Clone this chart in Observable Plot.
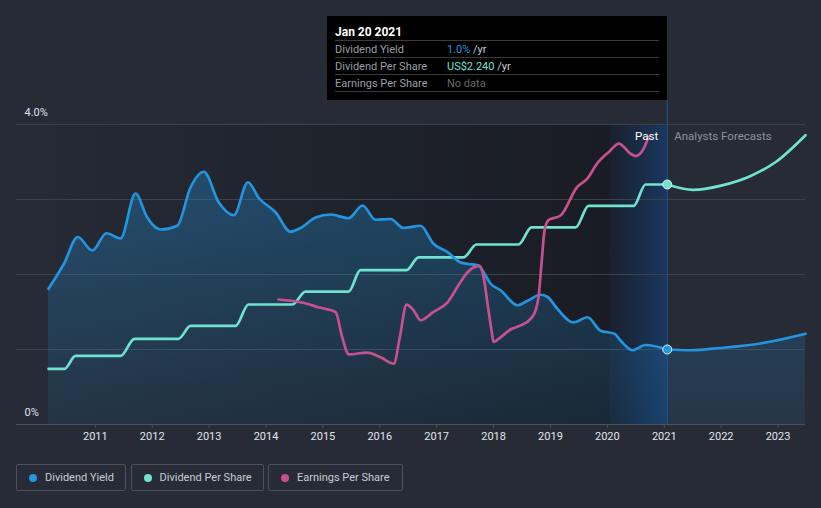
<!DOCTYPE html>
<html><head><meta charset="utf-8">
<script src="https://cdn.jsdelivr.net/npm/d3@7"></script>
<script src="https://cdn.jsdelivr.net/npm/@observablehq/plot@0.6"></script>
<style>
html,body{margin:0;padding:0;background:#262b36;}
#wrap{position:relative;width:821px;height:508px;overflow:hidden;font-family:Roboto,"Open Sans",sans-serif;}
#chart{position:absolute;left:0;top:0;}
.tip{position:absolute;left:327px;top:16px;width:340px;height:84px;background:#000;color:#9a9ea6;font-size:11px;}
.tip .title{position:absolute;left:8px;top:9px;font-size:12px;font-weight:bold;color:#fff;line-height:14px;}
.tip .row{position:absolute;left:8px;width:324px;height:16px;border-top:1px solid #3a3a3a;line-height:17px;}
.tip .row.last{border-bottom:1px solid #3a3a3a;}
.tip .lab{position:absolute;left:0;top:0;}
.tip .val{position:absolute;left:112px;top:0;}
.legend{position:absolute;left:16px;top:464px;display:flex;gap:4.5px;}
.legend .item{box-sizing:border-box;height:27px;border:1px solid #4b505b;border-radius:2px;display:flex;align-items:center;padding-left:12px;color:#c9ccd3;font-size:11px;}
.legend .dot{width:8px;height:8px;border-radius:50%;margin-right:8px;}
</style></head>
<body><div id="wrap"><div id="chart"></div>
<div class="tip" id="tip"></div>
<div class="legend" id="legend"></div>
</div>
<script>
// ---------- data ----------
const yieldYears = [2010.177, 2010.446, 2010.692, 2010.946, 2011.197, 2011.443, 2011.707, 2011.912, 2012.146, 2012.440, 2012.673, 2012.907, 2013.171, 2013.435, 2013.681, 2013.874, 2014.168, 2014.431, 2014.607, 2014.871, 2015.134, 2015.451, 2015.697, 2015.925, 2016.189, 2016.417, 2016.716, 2016.944, 2017.191, 2017.419, 2017.560, 2017.735, 2017.841, 2017.946, 2018.122, 2018.421, 2018.597, 2018.825, 2018.949, 2019.124, 2019.406, 2019.652, 2019.880, 2020.126, 2020.232, 2020.443, 2020.671, 2021.053];
const yieldPct   = [1.81, 2.14, 2.50, 2.32, 2.55, 2.48, 3.08, 2.76, 2.60, 2.65, 3.16, 3.37, 2.96, 2.79, 3.23, 3.02, 2.83, 2.57, 2.62, 2.76, 2.80, 2.75, 2.92, 2.73, 2.74, 2.62, 2.65, 2.41, 2.30, 2.16, 2.14, 2.12, 2.01, 1.88, 1.79, 1.59, 1.65, 1.73, 1.70, 1.54, 1.36, 1.43, 1.25, 1.21, 1.12, 0.99, 1.06, 1.00];
const yieldFcYears = [2021.053, 2021.460, 2021.988, 2022.691, 2023.483];
const yieldFcPct   = [1.00, 0.99, 1.02, 1.08, 1.21];

const dpsYears  = [2010.177, 2010.459, 2010.652, 2011.443, 2011.689, 2012.462, 2012.673, 2013.464, 2013.693, 2014.466, 2014.694, 2015.450, 2015.661, 2016.470, 2016.681, 2017.472, 2017.700, 2018.439, 2018.668, 2019.441, 2019.670, 2020.461, 2020.672, 2021.053];
const dpsValues = [0.52, 0.52, 0.64, 0.64, 0.80, 0.80, 0.92, 0.92, 1.12, 1.12, 1.24, 1.24, 1.44, 1.44, 1.56, 1.56, 1.68, 1.68, 1.84, 1.84, 2.04, 2.04, 2.24, 2.24];
const dpsFcYears  = [2021.053, 2021.508, 2022.000, 2022.520, 2022.960, 2023.483];
const dpsFcValues = [2.24, 2.19, 2.23, 2.32, 2.45, 2.70];

const epsYears  = [2014.220, 2014.607, 2014.958, 2015.222, 2015.340, 2015.456, 2015.779, 2016.013, 2016.247, 2016.352, 2016.470, 2016.598, 2016.716, 2016.944, 2017.191, 2017.419, 2017.542, 2017.753, 2017.824, 2017.894, 2017.964, 2017.999, 2018.122, 2018.298, 2018.474, 2018.650, 2018.738, 2018.790, 2018.843, 2018.896, 2018.966, 2019.177, 2019.471, 2019.647, 2019.822, 2020.026, 2020.202, 2020.408, 2020.496, 2020.619, 2020.724];
const epsValues = [2.71, 2.65, 2.53, 2.44, 1.89, 1.52, 1.56, 1.46, 1.32, 1.89, 2.60, 2.47, 2.26, 2.44, 2.65, 3.09, 3.30, 3.44, 3.20, 2.62, 2.04, 1.79, 1.89, 2.06, 2.15, 2.29, 2.47, 2.76, 3.49, 4.21, 4.43, 4.53, 5.15, 5.33, 5.66, 5.91, 6.09, 5.87, 5.82, 5.94, 6.23];

const xTicks = [2011, 2012, 2013, 2014, 2015, 2016, 2017, 2018, 2019, 2020, 2021, 2022, 2023];
const gridVals = [1, 2, 3, 4];
const yLabelVals = [0, 4];
const yLabelTexts = ["0%", "4.0%"];

const xStart = 2010.177, xEnd = 2023.483, gridStart = 2009.615;
const bandStart = 2020.038, forecastStart = 2021.053;

// secondary-axis unit conversions (DPS US$ and EPS US$ onto the % frame)
const dpsToPct = 3.2 / 2.24;
const epsToPct = 0.615;

const tipDate = "Jan 20 2021";
const tipRows = [
  {label: "Dividend Yield", value: "1.0%", unit: " /yr", color: "#2394df"},
  {label: "Dividend Per Share", value: "US$2.240", unit: " /yr", color: "#6fe3cf"},
  {label: "Earnings Per Share", value: "No data", unit: "", color: "#666a70"}
];
const legendItems = [
  {name: "Dividend Yield", color: "#2394df", w: 110},
  {name: "Dividend Per Share", color: "#6fe3cf", w: 133},
  {name: "Earnings Per Share", color: "#c7508f", w: 135}
];

// ---------- tables ----------
const yieldPast = yieldYears.map((x, i) => ({x, v: yieldPct[i]}));
const yieldFc = yieldFcYears.map((x, i) => ({x, v: yieldFcPct[i]}));
const yieldAll = yieldPast.concat(yieldFc.slice(1));
const dpsPast = dpsYears.map((x, i) => ({x, v: dpsValues[i]}));
const dpsFc = dpsFcYears.map((x, i) => ({x, v: dpsFcValues[i]}));
const eps = epsYears.map((x, i) => ({x, v: epsValues[i]}));
const yLabels = yLabelVals.map((v, i) => ({v, t: yLabelTexts[i]}));

const BLUE = "#2394df", TEAL = "#6fe3cf", PINK = "#c7508f";

const chart = Plot.plot({
  width: 821, height: 450,
  marginLeft: 48, marginRight: 16, marginTop: 124, marginBottom: 26,
  x: {domain: [xStart, xEnd], axis: null},
  y: {domain: [0, 4], axis: null},
  style: {background: "transparent", color: "#dfe2e8", fontFamily: "Roboto, sans-serif", fontSize: "11px", overflow: "visible"},
  marks: [
    Plot.rect([{a: xStart, b: forecastStart}], {x1: "a", x2: "b", y1: 0, y2: 4, fill: "url(#pastGrad)"}),
    Plot.rect([{a: bandStart, b: forecastStart}], {x1: "a", x2: "b", y1: 0, y2: 4, fill: "url(#bandGrad)"}),
    Plot.ruleY(gridVals, {x1: gridStart, x2: xEnd, stroke: "#3c414c", strokeWidth: 1}),
    Plot.areaY(yieldAll, {x: "x", y: "v", fill: "url(#areaGrad)", curve: "monotone-x"}),
    Plot.ruleY([0], {x1: gridStart, x2: xEnd, stroke: "#4b505b", strokeWidth: 1}),
    Plot.ruleX([forecastStart], {y1: 0, y2: 4.32, stroke: "#235796", strokeWidth: 1}),
    Plot.line(dpsPast, {x: "x", y: d => d.v * dpsToPct, stroke: TEAL, strokeWidth: 2.7, curve: "monotone-x"}),
    Plot.line(dpsFc, {x: "x", y: d => d.v * dpsToPct, stroke: TEAL, strokeWidth: 2.7, curve: "monotone-x"}),
    Plot.line(yieldPast, {x: "x", y: "v", stroke: BLUE, strokeWidth: 2.7, curve: "monotone-x"}),
    Plot.line(yieldFc, {x: "x", y: "v", stroke: BLUE, strokeWidth: 2.7, curve: "monotone-x"}),
    Plot.line(eps, {x: "x", y: d => d.v * epsToPct, stroke: PINK, strokeWidth: 2.7, curve: "monotone-x"}),
    Plot.dot([dpsPast[dpsPast.length - 1]], {x: "x", y: d => d.v * dpsToPct, r: 4.5, fill: TEAL, stroke: "#e8eef5", strokeWidth: 1}),
    Plot.dot([yieldPast[yieldPast.length - 1]], {x: "x", y: "v", r: 4.5, fill: BLUE, stroke: "#e8eef5", strokeWidth: 1}),
    Plot.text(["Past"], {x: forecastStart, y: 4, dx: -9, dy: 12, text: d => d, textAnchor: "end", fill: "#ffffff", fontSize: 11.5}),
    Plot.text(["Analysts Forecasts"], {x: forecastStart, y: 4, dx: 7, dy: 12, text: d => d, textAnchor: "start", fill: "#8d929b", fontSize: 11.5}),
    Plot.text(yLabels, {x: gridStart, y: "v", text: "t", dx: 8, dy: -12, textAnchor: "start", fill: "#dfe2e8", fontSize: 11}),
    Plot.axisX(xTicks, {tickSize: 4, tickPadding: 4, stroke: "#4b505b", fill: "#e2e5ea", tickFormat: d => String(d), fontSize: 11})
  ]
});

const svg = d3.select(chart);
const defs = svg.insert("defs", ":first-child");
const pg = defs.append("linearGradient").attr("id", "pastGrad").attr("x1", 0).attr("x2", 1).attr("y1", 0).attr("y2", 0);
pg.append("stop").attr("offset", 0).attr("stop-color", "#000").attr("stop-opacity", 0.03);
pg.append("stop").attr("offset", 0.94).attr("stop-color", "#000").attr("stop-opacity", 0.36);
pg.append("stop").attr("offset", 1).attr("stop-color", "#000").attr("stop-opacity", 0.36);
const bg = defs.append("linearGradient").attr("id", "bandGrad").attr("x1", 0).attr("x2", 1).attr("y1", 0).attr("y2", 0);
bg.append("stop").attr("offset", 0).attr("stop-color", "#1c5cb0").attr("stop-opacity", 0.06);
bg.append("stop").attr("offset", 1).attr("stop-color", "#1c5cb0").attr("stop-opacity", 0.42);
const ag = defs.append("linearGradient").attr("id", "areaGrad").attr("x1", 0).attr("x2", 0).attr("y1", 0).attr("y2", 1);
ag.append("stop").attr("offset", 0).attr("stop-color", BLUE).attr("stop-opacity", 0.34);
ag.append("stop").attr("offset", 1).attr("stop-color", BLUE).attr("stop-opacity", 0.1);

document.getElementById("chart").appendChild(chart);

// tooltip
const tip = document.getElementById("tip");
const t = document.createElement("div"); t.className = "title"; t.textContent = tipDate; tip.appendChild(t);
tipRows.forEach((r, i) => {
  const row = document.createElement("div");
  row.className = "row" + (i === tipRows.length - 1 ? " last" : "");
  row.style.top = (24 + i * 17) + "px";
  const lab = document.createElement("span"); lab.className = "lab"; lab.textContent = r.label;
  const val = document.createElement("span"); val.className = "val";
  const v = document.createElement("span"); v.style.color = r.color; v.textContent = r.value;
  const u = document.createElement("span"); u.style.color = "#c8ccd2"; u.textContent = r.unit;
  val.appendChild(v); val.appendChild(u);
  row.appendChild(lab); row.appendChild(val);
  tip.appendChild(row);
});

// legend
const legend = document.getElementById("legend");
legendItems.forEach(it => {
  const d = document.createElement("div"); d.className = "item"; d.style.width = it.w + "px";
  const dot = document.createElement("span"); dot.className = "dot"; dot.style.background = it.color;
  const s = document.createElement("span"); s.textContent = it.name;
  d.appendChild(dot); d.appendChild(s); legend.appendChild(d);
});
</script>
</body></html>
